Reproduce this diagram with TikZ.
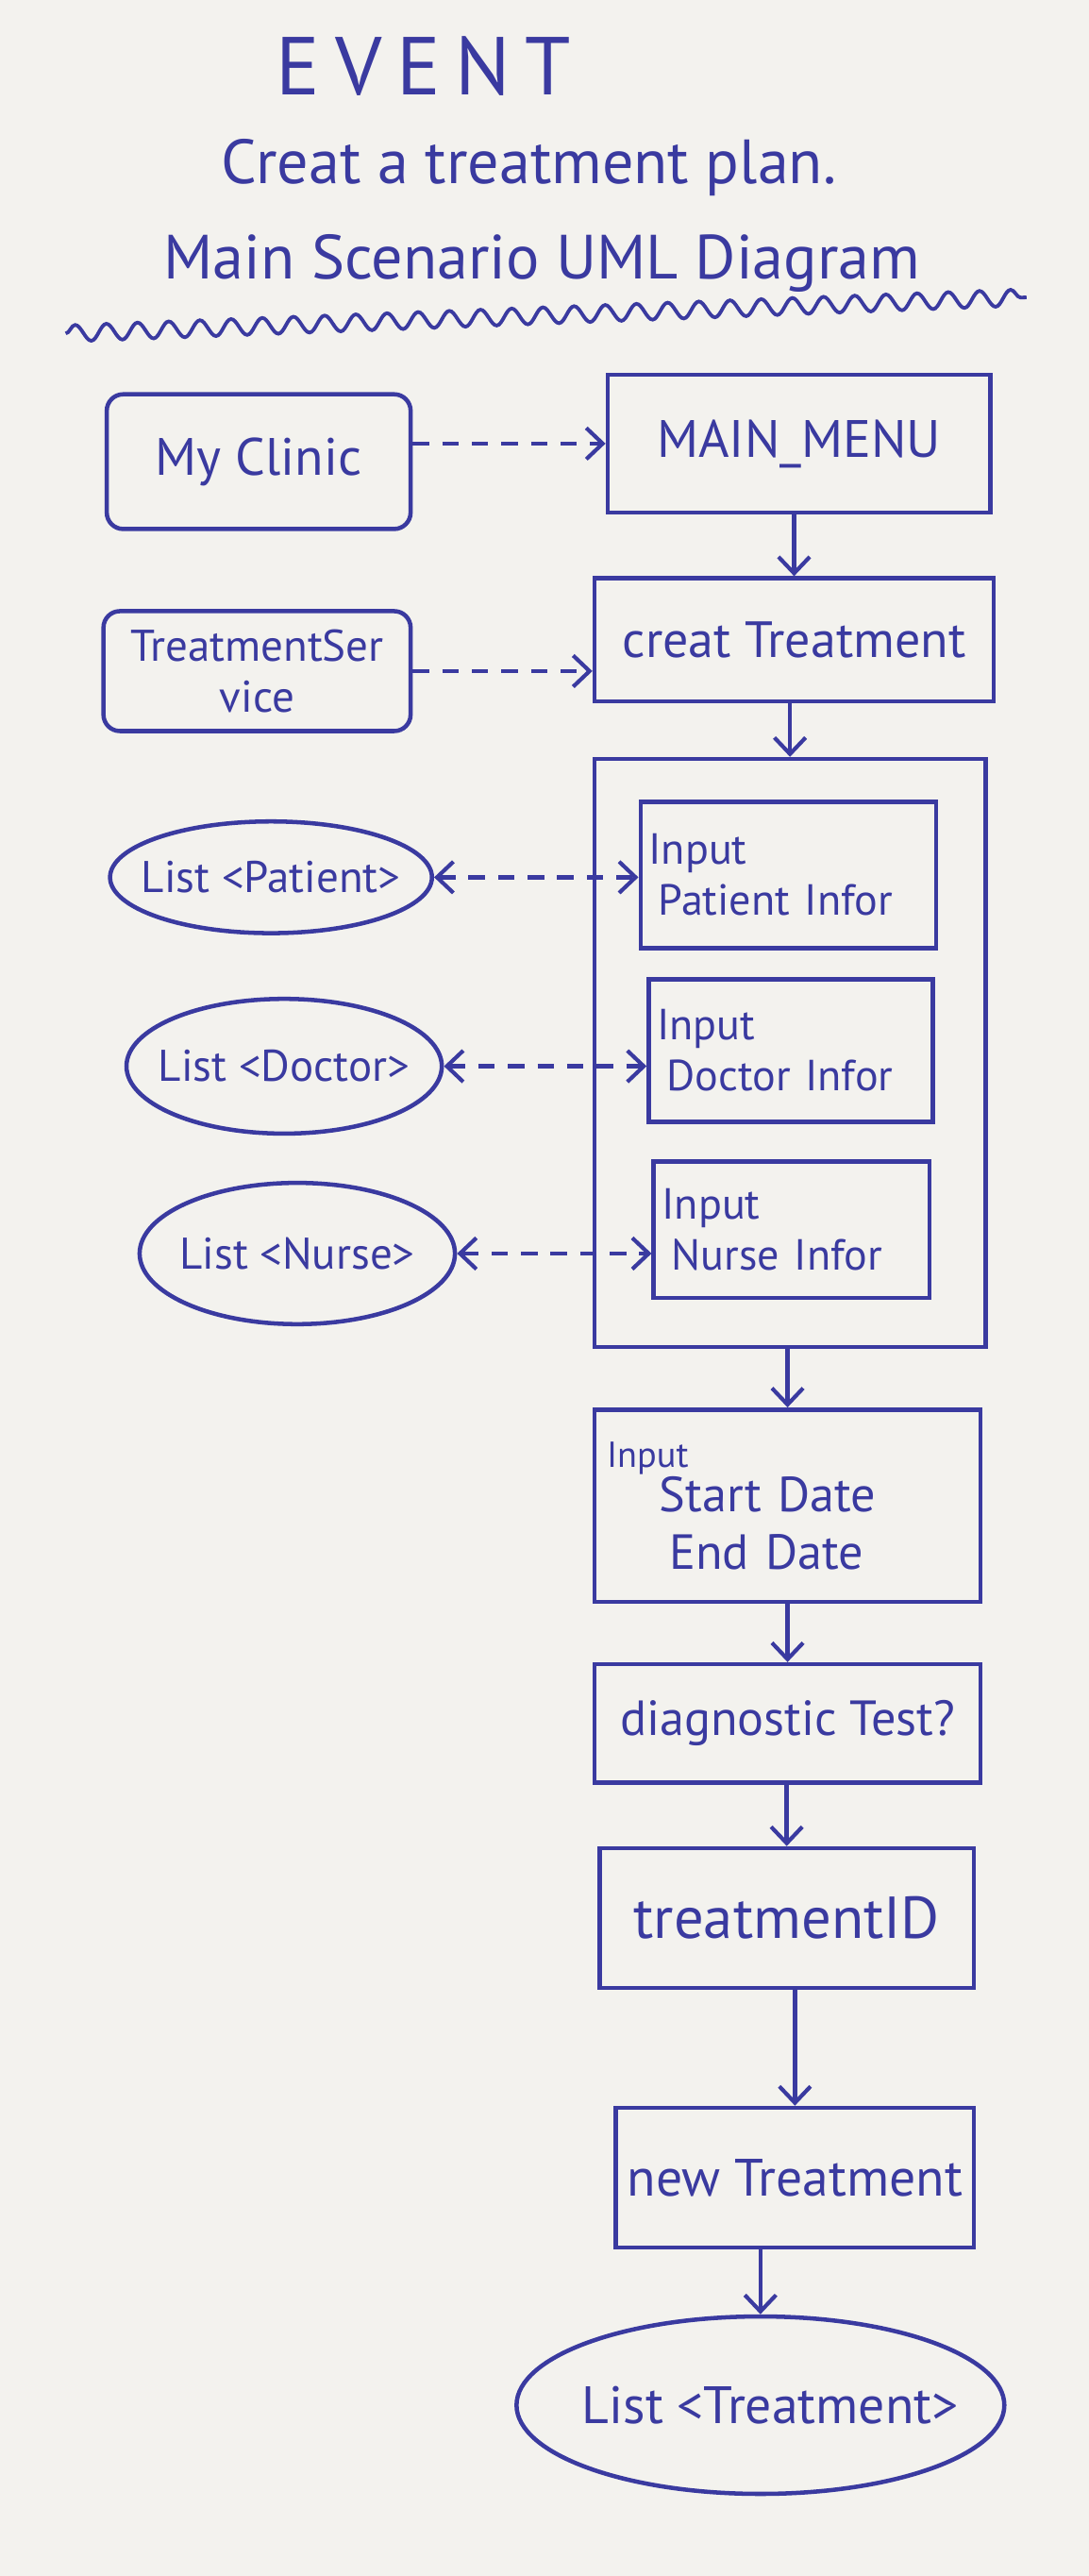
\documentclass[tikz,border=0pt]{standalone}
\usepackage{fontspec}
\setmainfont{PT Sans}
\usetikzlibrary{arrows.meta,shapes.geometric,decorations.pathmorphing}
\definecolor{ink}{RGB}{58,58,160}
\definecolor{paper}{RGB}{243,242,238}
\newcommand{\zw}[1]{\makebox[0pt]{#1}}
\begin{document}
\begin{tikzpicture}[x=1pt,y=-1pt,
  every node/.style={text=ink},
  inkline/.style={draw=ink, line width=2.6pt},
  box/.style={rectangle, inkline, inner sep=0pt},
  rbox/.style={box, rounded corners=10pt},
  oval/.style={ellipse, inkline, inner sep=0pt},
  flow/.style={inkline, -{Straight Barb[length=10pt,width=19pt,line width=2.4pt]}},
  dasharr/.style={inkline, dash pattern=on 10pt off 8pt, -{Straight Barb[length=10pt,width=19pt,line width=2.4pt]}},
  bidash/.style={inkline, dash pattern=on 10pt off 8pt, {Straight Barb[length=10pt,width=19pt,line width=2.4pt]}-{Straight Barb[length=10pt,width=19pt,line width=2.4pt]}},
  fA/.style={font=\fontsize{30}{34}\selectfont},
  fB/.style={font=\fontsize{27}{31}\selectfont},
  fC/.style={font=\fontsize{26.5}{31}\selectfont},
]
\fill[paper] (0,0) rectangle (663,1568);
\useasboundingbox (0,0) rectangle (663,1568);

% titles
\node[font=\fontsize{50}{54}\selectfont\addfontfeature{LetterSpace=18}] (title) at (258,40) {EVENT};
\node[font=\fontsize{38}{42}\selectfont] (sub) at (322,102) {Creat a treatment plan.};
\node[font=\fontsize{38}{42}\selectfont] (sub2) at (330,160) {Main Scenario UML Diagram};
\draw[inkline, line width=2.2pt, decorate, decoration={snake, segment length=19pt, amplitude=5pt}] (40,203) -- (625,181);

% left column
\node[rbox, font=\fontsize{32}{36}\selectfont, minimum width=185pt, minimum height=82pt] (mc) at (157.5,281) {My Clinic};
\node[rbox, fB, minimum width=187pt, minimum height=73pt, align=center] (ts) at (156.5,408.5) {TreatmentSer\\vice};
\node[oval, fB, minimum width=196pt, minimum height=68pt] (lp) at (165,534) {\zw{List <Patient>}};
\node[oval, fB, minimum width=192pt, minimum height=82pt] (ld) at (173,649) {\zw{List <Doctor>}};
\node[oval, fB, minimum width=192pt, minimum height=86pt] (ln) at (181,763) {\zw{List <Nurse>}};

% right column
\node[box, font=\fontsize{32}{36}\selectfont, minimum width=233pt, minimum height=84pt] (mm) at (486.5,270) {MAIN\_MENU};
\node[box, font=\fontsize{31}{35}\selectfont, minimum width=243pt, minimum height=75pt] (ct) at (483.5,389.5) {creat Treatment};
\node[box, minimum width=238pt, minimum height=358pt] (big) at (481,641) {};
\node[box, fC, minimum width=180pt, minimum height=89pt, align=left, text width=170pt] (pi) at (480,532.5) {Input\\\hspace*{6pt}Patient Infor};
\node[box, fC, minimum width=173pt, minimum height=87pt, align=left, text width=163pt] (di) at (481.5,639.5) {Input\\\hspace*{6pt}Doctor Infor};
\node[box, fC, minimum width=168pt, minimum height=83pt, align=left, text width=158pt] (ni) at (482,748.5) {Input\\\hspace*{6pt}Nurse Infor};
\node[box, font=\fontsize{30}{35}\selectfont, minimum width=235pt, minimum height=117pt, align=left, text width=220pt] (sd) at (479.5,916.5)
  {{\fontsize{22}{22}\selectfont Input}\\[-8pt]\hspace*{32pt}Start Date\\\hspace*{38pt}End Date};
\node[box, fA, minimum width=235pt, minimum height=72pt] (dt) at (479.5,1049) {diagnostic Test?};
\node[box, font=\fontsize{36}{40}\selectfont, minimum width=228pt, minimum height=85pt] (tid) at (479,1167.5) {treatmentID};
\node[box, font=\fontsize{32}{36}\selectfont, minimum width=218pt, minimum height=85pt] (nt) at (484,1325.5) {new Treatment};
\node[oval, font=\fontsize{32}{36}\selectfont, minimum width=297pt, minimum height=108pt] (lt) at (463,1464) {\hspace*{12pt}\zw{List <Treatment>}};

% connectors
\draw[dasharr] (mm.west -| mc.east) -- (mm.west);
\draw[dasharr] (ts.east) -- (ts.east -| ct.west);
\draw[bidash] (lp.east) -- (lp.east -| pi.west);
\draw[bidash] (ld.east) -- (ld.east -| di.west);
\draw[bidash] (ln.east) -- (ln.east -| ni.west);

\draw[flow] (mm.south -| ct.north) -- (ct.north);
\draw[flow] (ct.south -| big.north) -- (big.north);
\draw[flow] (big.south -| sd.north) -- (sd.north);
\draw[flow] (sd.south -| dt.north) -- (dt.north);
\draw[flow] (dt.south -| tid.north) -- (tid.north);
\draw[flow] (tid.south -| nt.north) -- (nt.north);
\draw[flow] (nt.south -| lt.north) -- (lt.north);
\end{tikzpicture}
\end{document}
